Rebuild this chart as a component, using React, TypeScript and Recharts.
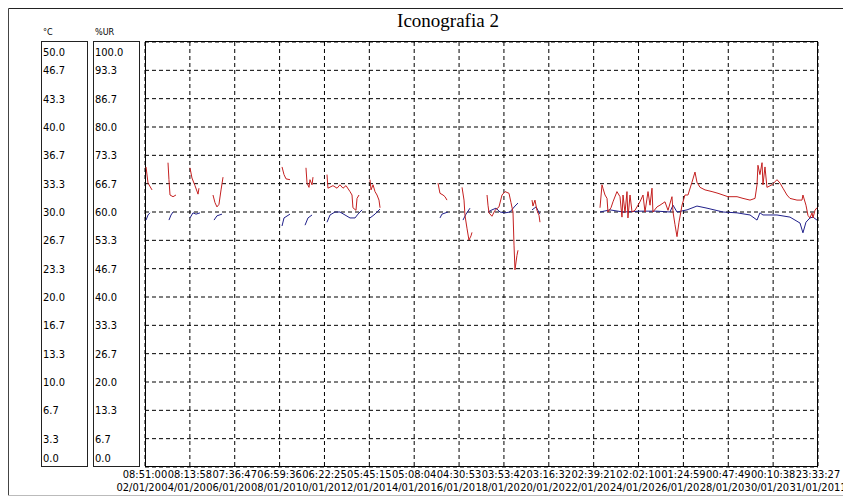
import React from "react";
import { LineChart, Line, XAxis, YAxis, CartesianGrid } from "recharts";

// x axis: hours since 02/01 08:51:00, one grid step = 47:22:49
const TICK_HOURS = [0, 47.38, 94.76, 142.14, 189.52, 236.9, 284.28, 331.66, 379.04, 426.42, 473.8, 521.18, 568.56, 615.94, 663.32, 710.7];
const TICK_TIMES = ["08:51:00", "08:13:58", "07:36:47", "06:59:36", "06:22:25", "05:45:15", "05:08:04", "04:30:53", "03:53:42", "03:16:32", "02:39:21", "02:02:10", "01:24:59", "00:47:49", "00:10:38", "23:33:27"];
const TICK_DATES = ["02/01/2011", "04/01/2011", "06/01/2011", "08/01/2011", "10/01/2011", "12/01/2011", "14/01/2011", "16/01/2011", "18/01/2011", "20/01/2011", "22/01/2011", "24/01/2011", "26/01/2011", "28/01/2011", "30/01/2011", "31/01/2011"];

const TEMP_TICKS = [0, 3.333, 6.667, 10, 13.333, 16.667, 20, 23.333, 26.667, 30, 33.333, 36.667, 40, 43.333, 46.667, 50];
const TEMP_LABELS = ["0.0", "3.3", "6.7", "10.0", "13.3", "16.7", "20.0", "23.3", "26.7", "30.0", "33.3", "36.7", "40.0", "43.3", "46.7", "50.0"];
const RH_TICKS = [0, 6.667, 13.333, 20, 26.667, 33.333, 40, 46.667, 53.333, 60, 66.667, 73.333, 80, 86.667, 93.333, 100];
const RH_LABELS = ["0.0", "6.7", "13.3", "20.0", "26.7", "33.3", "40.0", "46.7", "53.3", "60.0", "66.7", "73.3", "80.0", "86.7", "93.3", "100.0"];

// temperature (°C), one inner array per logged stretch
const TEMP_H = [
  [1.1, 3.2, 7.4],
  [24.3, 25.3, 26.4, 29.6, 32.7],
  [47.5, 49.6, 52.8, 56.0, 57.0],
  [71.8, 73.9, 76.0, 78.1, 80.3, 82.4],
  [144.7, 146.8, 148.9, 153.1],
  [170.0, 171.1, 173.2, 174.2, 176.4, 177.4],
  [192.2, 193.2, 198.5, 202.8, 205.9, 209.1, 212.3, 216.5, 218.6, 219.6, 222.8, 223.9, 226.0],
  [237.6, 238.7, 240.8, 242.9, 245.0, 247.1, 248.2],
  [309.4, 311.5, 314.7, 316.8, 318.9],
  [334.8, 336.9, 337.9, 340.0, 342.1, 344.3, 345.3],
  [361.2, 362.2, 363.3, 366.4, 369.6, 373.8, 377.0, 380.2, 384.4, 386.5, 388.6, 389.7, 390.7, 392.8, 393.9],
  [408.7, 409.7, 411.8, 413.9, 416.1, 417.1],
  [480.5, 482.6, 483.6, 485.8, 487.9, 488.9, 492.1, 494.2, 498.4, 501.6, 503.7, 504.8, 506.9, 509.0, 510.0, 512.2, 514.3, 517.4, 522.7, 525.9, 528.0, 531.2, 533.3, 535.4, 536.4, 540.7, 543.8, 549.1, 552.3, 556.5, 557.6, 559.7, 561.8, 563.9, 567.1, 570.2, 573.4, 577.6, 580.8, 582.9, 586.1, 591.4, 598.8, 605.1, 610.4, 615.6, 625.2, 631.5, 638.9, 644.2, 646.3, 647.3, 649.4, 651.6, 652.6, 654.7, 656.8, 662.1, 667.4, 670.6, 673.7, 677.9, 681.1, 688.5, 693.8, 694.8, 698.0, 700.1, 702.2, 704.4, 705.4, 707.5, 709.6],
];
const TEMP_C = [
  [35.3, 33.4, 32.6],
  [35.8, 33.8, 32.0, 31.8, 32.0],
  [35.2, 34.0, 33.1, 32.1, 32.8],
  [32.0, 31.1, 30.6, 30.9, 32.6, 34.1],
  [35.3, 34.4, 33.9, 33.8],
  [35.2, 33.4, 32.9, 33.8, 33.2, 34.1],
  [34.4, 32.8, 33.1, 32.8, 33.2, 32.8, 33.1, 32.4, 32.0, 30.5, 30.2, 31.6, 32.0],
  [33.8, 32.6, 33.2, 32.4, 32.0, 31.4, 30.5],
  [33.4, 32.2, 32.0, 31.8, 31.4],
  [32.9, 31.4, 29.6, 28.1, 26.7, 27.2, 27.6],
  [32.0, 30.8, 29.9, 29.5, 30.2, 30.6, 32.0, 32.4, 32.2, 31.1, 30.0, 26.1, 23.2, 24.9, 25.5],
  [31.4, 30.7, 31.4, 30.2, 29.6, 28.8],
  [30.5, 33.2, 32.8, 32.0, 31.6, 30.0, 30.5, 31.2, 32.4, 31.8, 29.4, 32.0, 29.9, 32.4, 29.3, 32.0, 30.0, 30.2, 31.2, 32.0, 30.0, 32.4, 30.8, 32.8, 30.0, 30.6, 30.8, 31.2, 30.2, 31.8, 30.0, 28.5, 27.1, 28.8, 30.8, 32.0, 32.0, 33.5, 34.7, 33.5, 32.9, 32.6, 32.4, 32.2, 32.0, 31.8, 31.8, 31.6, 31.4, 31.6, 33.2, 35.5, 34.4, 35.8, 33.2, 35.3, 32.9, 33.2, 33.8, 33.4, 32.8, 32.0, 31.6, 31.4, 31.4, 32.0, 30.8, 29.6, 29.3, 29.9, 29.3, 30.2, 30.5],
];

// relative humidity (%UR)
const RH_H = [
  [1.1, 3.2, 5.3],
  [25.3, 27.5, 29.6],
  [47.5, 50.7, 53.9, 58.1],
  [72.9, 76.0, 81.3],
  [144.7, 146.8, 153.1],
  [169.0, 172.1, 176.4],
  [192.2, 195.4, 200.6, 205.9, 211.2, 216.5, 221.8, 224.9, 229.2],
  [237.6, 242.9, 248.2],
  [311.5, 313.6, 319.9],
  [335.8, 339.0, 343.2],
  [362.2, 366.4, 370.7, 374.9, 380.2, 385.4, 390.7, 393.9],
  [408.7, 413.0, 417.1],
  [480.5, 491.0, 504.8, 522.7, 540.7, 554.4, 557.6, 561.8, 572.4, 582.9, 593.5, 610.4, 625.2, 638.9, 646.3, 649.4, 652.6, 667.4, 681.1, 691.7, 694.8, 698.0, 702.2, 705.4, 709.6],
];
const RH_PCT = [
  [58.1, 59.3, 59.8],
  [58.1, 59.3, 60.0],
  [58.6, 59.8, 59.5, 59.8],
  [58.1, 59.1, 59.5],
  [56.7, 58.6, 59.5],
  [56.9, 58.6, 59.3],
  [57.6, 59.3, 60.0, 60.0, 59.3, 58.6, 58.6, 59.5, 60.5],
  [58.6, 59.5, 60.7],
  [58.6, 59.5, 60.0],
  [58.1, 59.5, 60.9],
  [60.0, 60.5, 60.9, 60.0, 59.8, 60.0, 61.4, 62.1],
  [60.5, 61.2, 59.5],
  [60.0, 60.5, 60.0, 60.2, 60.2, 60.0, 61.6, 60.0, 60.5, 61.4, 60.9, 60.0, 59.8, 59.3, 58.1, 59.8, 59.3, 59.3, 58.8, 57.4, 55.1, 57.6, 58.6, 58.8, 58.1],
];

// flatten segments, a null point after each one breaks the line
const toSeries = (hours: number[][], vals: number[][]) =>
  hours.flatMap((seg, i) => [
    ...seg.map((h, j) => ({ h, v: vals[i][j] })),
    { h: seg[seg.length - 1] + 0.3, v: null },
  ]);

const tempData = toSeries(TEMP_H, TEMP_C);
const rhData = toSeries(RH_H, RH_PCT);

const FONT = "'DejaVu Sans Condensed', 'DejaVu Sans', sans-serif";

const makeYTick = (labels: string[]) => (props: any) => {
  const { x, y, index } = props;
  const last = labels.length - 1;
  const dy = index === 0 ? -9 : index === last ? 10 : 0;
  return (
    <text x={x - 50} y={y + dy + 4} fontSize={11} fontFamily={FONT} fontStretch="condensed" fill="#000">
      {labels[index]}
    </text>
  );
};

// each label paints an opaque box, so a later label hides the tail of the one before
const XTick = (props: any) => {
  const { x, y, index } = props;
  return (
    <g>
      <rect x={x - 22} y={y + 1} width={44} height={13} fill="#fff" />
      <text x={x} y={y + 11} textAnchor="middle" fontSize={11} fontFamily={FONT} fontStretch="condensed" fill="#000">
        {TICK_TIMES[index]}
      </text>
      <rect x={x - 28} y={y + 14} width={56} height={13} fill="#fff" />
      <text x={x} y={y + 24} textAnchor="middle" fontSize={11} fontFamily={FONT} fontStretch="condensed" fill="#000">
        {TICK_DATES[index]}
      </text>
    </g>
  );
};

export default function App() {
  return (
    <div style={{ position: "absolute", left: 0, top: 0, width: 843, height: 499, background: "#fff", overflow: "hidden" }}>
      <svg width={843} height={499} style={{ position: "absolute", left: 0, top: 0 }}>
        <line x1={8.5} y1={8.5} x2={843} y2={8.5} stroke="#222" />
        <line x1={8.5} y1={8.5} x2={8.5} y2={496} stroke="#444" />
        <line x1={8} y1={495.5} x2={843} y2={495.5} stroke="#bbb" />
        <text x={448} y={27} textAnchor="middle" fontSize={19} fontFamily="Liberation Serif" fill="#000">
          Iconografia 2
        </text>
        <text x={43} y={35} fontSize={9} fontFamily={FONT} fontStretch="condensed" fill="#000">°C</text>
        <text x={95} y={35} fontSize={9} fontFamily={FONT} fontStretch="condensed" fill="#000">%UR</text>
        <rect x={41.5} y={41.5} width={46} height={425} fill="none" stroke="#222" />
        <rect x={93.5} y={41.5} width={46} height={425} fill="none" stroke="#222" />
        <rect x={145.5} y={41.5} width={672} height={425} fill="none" stroke="#000" />
      </svg>
      <div style={{ position: "absolute", left: 0, top: 0 }}>
        <LineChart width={843} height={499} margin={{ top: 42, right: 25, bottom: 0, left: 41 }}>
          <CartesianGrid yAxisId="t" stroke="#000" strokeDasharray="4 3" />
          <XAxis
            dataKey="h"
            type="number"
            domain={[0, 710.7]}
            ticks={TICK_HOURS}
            interval={0}
            tick={<XTick />}
            tickSize={0}
            tickMargin={0}
            axisLine={false}
            tickLine={false}
            height={32}
          />
          <YAxis
            yAxisId="rh"
            orientation="left"
            type="number"
            domain={[0, 100]}
            ticks={RH_TICKS}
            interval={0}
            width={52}
            tick={makeYTick(RH_LABELS)}
            tickSize={0}
            tickMargin={0}
            axisLine={false}
            tickLine={false}
          />
          <YAxis
            yAxisId="t"
            orientation="left"
            type="number"
            domain={[0, 50]}
            ticks={TEMP_TICKS}
            interval={0}
            width={52}
            tick={makeYTick(TEMP_LABELS)}
            tickSize={0}
            tickMargin={0}
            axisLine={false}
            tickLine={false}
          />
          <Line
            yAxisId="rh"
            data={rhData}
            dataKey="v"
            stroke="#20208a"
            strokeWidth={1}
            dot={false}
            connectNulls={false}
            isAnimationActive={false}
          />
          <Line
            yAxisId="t"
            data={tempData}
            dataKey="v"
            stroke="#c42020"
            strokeWidth={1}
            dot={false}
            connectNulls={false}
            isAnimationActive={false}
          />
        </LineChart>
      </div>
    </div>
  );
}
